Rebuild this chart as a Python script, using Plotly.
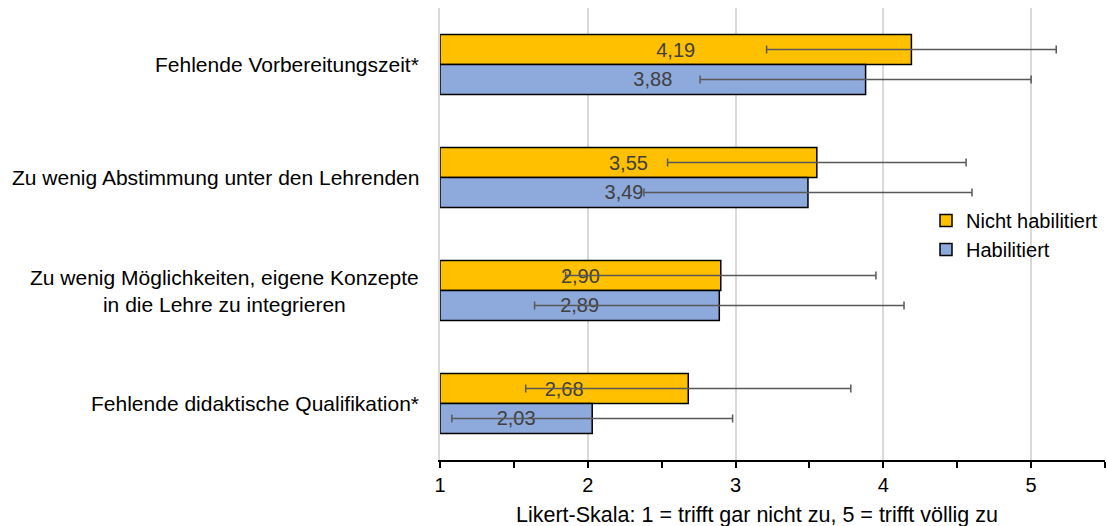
import plotly.graph_objects as go

categories = [
    "Fehlende Vorbereitungszeit*",
    "Zu wenig Abstimmung unter den Lehrenden",
    "Zu wenig Möglichkeiten, eigene Konzepte<br>in die Lehre zu integrieren",
    "Fehlende didaktische Qualifikation*",
]
nicht_habilitiert = [4.19, 3.55, 2.90, 2.68]
nicht_habilitiert_err = [0.98, 1.01, 1.05, 1.10]
habilitiert = [3.88, 3.49, 2.89, 2.03]
habilitiert_err = [1.12, 1.11, 1.25, 0.95]
x_ticks = [1, 2, 3, 4, 5]
x_title = "Likert-Skala: 1 = trifft gar nicht zu, 5 = trifft völlig zu"

FONT = "Liberation Sans, Arial, sans-serif"
W, H = 1107, 526
L, R, T, B = 440, 2, 8, 66
PW, PH = W - L - R, H - T - B

fig = go.Figure()
for name, vals, errs, col in [
    ("Nicht habilitiert", nicht_habilitiert, nicht_habilitiert_err, "#FFC000"),
    ("Habilitiert", habilitiert, habilitiert_err, "#8EA9DB"),
]:
    fig.add_trace(go.Bar(
        name=name,
        y=categories,
        x=[v - 1 for v in vals],
        base=1,
        orientation="h",
        marker=dict(color=col, line=dict(color="#000000", width=1.5)),
        text=[f"{v:.2f}".replace(".", ",") for v in vals],
        textposition="inside",
        insidetextanchor="middle",
        textangle=0,
        textfont=dict(family=FONT, size=20, color="#404040"),
        error_x=dict(type="data", array=errs, color="#595959", thickness=1.5, width=4),
        hoverinfo="skip",
    ))

for c in categories:
    fig.add_annotation(
        x=(421 - L) / PW, xref="paper", xanchor="right",
        y=c, yref="y", yanchor="middle",
        text=c, showarrow=False, align="center",
        font=dict(family=FONT, size=21, color="#000000"),
    )

fig.add_annotation(
    x=(757 - L) / PW, xref="paper", xanchor="center",
    y=(T + PH - 515) / PH, yref="paper", yanchor="middle",
    text=x_title, showarrow=False,
    font=dict(family=FONT, size=21.5, color="#000000"),
)

fig.update_layout(
    width=W, height=H,
    margin=dict(l=L, r=R, t=T, b=B, autoexpand=False),
    paper_bgcolor="white", plot_bgcolor="white",
    barmode="group", bargap=0.47, bargroupgap=0,
    font=dict(family=FONT, size=20, color="#000000"),
    legend=dict(
        x=(926 - L) / PW, y=(T + PH - 201) / PH,
        xanchor="left", yanchor="top",
        font=dict(family=FONT, size=20, color="#000000"),
        bgcolor="rgba(0,0,0,0)", tracegroupgap=0,
    ),
    showlegend=True,
)
fig.update_xaxes(
    range=[1, 5.5],
    tickvals=x_ticks,
    ticktext=[str(t) for t in x_ticks],
    showgrid=True, gridcolor="#D9D9D9", gridwidth=1.5,
    zeroline=False,
    showline=True, linecolor="#000000", linewidth=1.5,
    ticks="outside", ticklen=6, tickcolor="#000000", tickwidth=1.5,
    minor=dict(dtick=0.5, tick0=1, ticks="outside", ticklen=6, tickcolor="#000000", tickwidth=1.5, showgrid=False),
    tickfont=dict(family=FONT, size=20, color="#000000"),
)
fig.update_yaxes(
    autorange="reversed",
    showticklabels=False,
    showgrid=False,
    showline=True, linecolor="#D9D9D9", linewidth=1.5,
    ticks="",
)

fig.write_html("out.html")
